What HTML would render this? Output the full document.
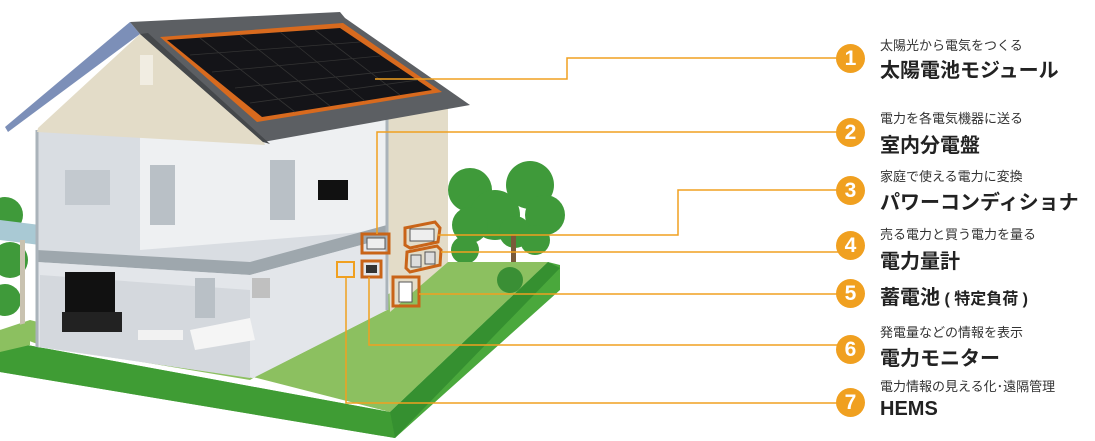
<!DOCTYPE html>
<html><head><meta charset="utf-8"><style>
html,body{margin:0;padding:0;background:#fff;}
body{width:1095px;height:441px;overflow:hidden;position:relative;font-family:"Liberation Sans","Noto Sans CJK JP",sans-serif;}
.b{position:absolute;left:836px;width:29px;height:29px;border-radius:50%;background:#f0a020;color:#fff;font-weight:bold;font-size:21px;line-height:29px;text-align:center;}
.s{position:absolute;left:880px;font-size:13px;color:#333;white-space:nowrap;}
.l{position:absolute;left:880px;font-size:20px;font-weight:bold;color:#222;white-space:nowrap;}
</style></head><body>
<svg width="1095" height="441" style="position:absolute;left:0;top:0">
<!-- trees -->
<g fill="#3f9a3a">
<circle cx="470" cy="190" r="22"/><circle cx="495" cy="215" r="25"/><circle cx="530" cy="185" r="24"/><circle cx="545" cy="215" r="20"/><circle cx="470" cy="225" r="18"/><circle cx="515" cy="232" r="16"/><circle cx="465" cy="250" r="14"/><circle cx="535" cy="240" r="15"/>
<circle cx="5" cy="215" r="18"/><circle cx="10" cy="260" r="18"/><circle cx="5" cy="300" r="16"/>
</g>
<rect x="511" y="235" width="5" height="30" fill="#7a5a3a"/>
<!-- lawn -->
<polygon points="0,340 390,412 548,262 560,265 560,290 395,438 0,372" fill="#4aa83c"/>
<polygon points="0,330 30,320 390,412 548,262 440,262 250,380 40,345" fill="#8cc060"/>
<polygon points="0,340 390,412 395,438 0,372" fill="#3f9c34"/>
<polygon points="390,412 548,262 560,268 395,438" fill="#359030"/>
<circle cx="408" cy="277" r="12" fill="#3a8f35"/><circle cx="510" cy="280" r="13" fill="#3a8f35"/>
<!-- left side carport -->
<polygon points="0,220 40,225 40,245 0,240" fill="#a9c9d4"/>
<rect x="20" y="240" width="5" height="105" fill="#c9c2b0"/>
<polygon points="0,330 30,322 30,345 0,352" fill="#8cc060"/>
<!-- right wall -->
<polygon points="385,118 448,108 448,262 390,312" fill="#e3dcc8"/>
<!-- interior -->
<polygon points="37,130 265,140 387,120 387,310 253,378 37,347" fill="#d9dde2"/>
<polygon points="140,130 265,140 387,120 387,230 140,250" fill="#eef0f2"/>
<polygon points="37,250 250,262 387,225 387,238 250,275 37,262" fill="#9ea7ad"/>
<polygon points="37,262 250,275 387,238 387,310 253,378 37,347" fill="#e3e6ea"/>
<polygon points="40,275 250,290 250,378 40,347" fill="#d4d8dd"/>
<rect x="150" y="165" width="25" height="60" fill="#b9c0c6"/>
<rect x="270" y="160" width="25" height="60" fill="#b9c0c6"/>
<rect x="65" y="170" width="45" height="35" fill="#c3c9cf"/>
<rect x="318" y="180" width="30" height="20" fill="#111"/>
<rect x="65" y="272" width="50" height="40" fill="#111"/>
<rect x="62" y="312" width="60" height="20" fill="#222"/>
<rect x="195" y="278" width="20" height="40" fill="#b9c0c6"/>
<polygon points="190,330 250,318 255,340 195,350" fill="#f5f5f5"/>
<rect x="138" y="330" width="45" height="10" fill="#f2f2f2"/>
<rect x="252" y="278" width="18" height="20" fill="#c0c0c0"/>
<line x1="37" y1="130" x2="37" y2="347" stroke="#aab3ba" stroke-width="3"/>
<line x1="387" y1="118" x2="387" y2="310" stroke="#aab3ba" stroke-width="3"/>
<!-- gable -->
<polygon points="38,128 140,34 263,140 265,145 37,132" fill="#e3dcc8"/>
<rect x="140" y="55" width="13" height="30" fill="#f1ede2"/>
<!-- roof -->
<polygon points="130,22 140,34 8,132 5,127" fill="#7c8fb8"/>
<polygon points="130,22 340,12 345,18 470,105 263,142 140,34" fill="#5c5f63"/>
<polygon points="140,34 263,142 270,144 148,33" fill="#45484b"/>
<polygon points="160,37 343,23 442,92 257,122" fill="#d86a1e"/>
<polygon points="167,40 340,28 432,90 262,117" fill="#141418"/>
<g stroke="#333" stroke-width="0.8">
<line x1="190" y1="55" x2="360" y2="42"/><line x1="212" y1="72" x2="380" y2="56"/><line x1="235" y1="88" x2="400" y2="70"/><line x1="250" y1="103" x2="418" y2="80"/>
<line x1="200" y1="38" x2="295" y2="112"/><line x1="240" y1="35" x2="330" y2="106"/><line x1="280" y1="32" x2="365" y2="101"/><line x1="315" y1="30" x2="400" y2="95"/>
</g>
<!-- devices -->
<g fill="none" stroke="#c96418" stroke-width="3">
<rect x="362" y="234" width="27" height="19"/>
<polygon points="405,228 435,222 440,228 438,242 410,248 405,245"/>
<polygon points="407,252 437,246 441,250 440,265 410,272 406,268"/>
<rect x="393" y="277" width="26" height="29"/>
<rect x="362" y="261" width="19" height="16"/>
</g>
<rect x="367" y="238" width="18" height="11" fill="#eee" stroke="#555"/>
<rect x="410" y="229" width="24" height="12" fill="#eee" stroke="#555"/>
<rect x="411" y="255" width="10" height="12" fill="#ddd" stroke="#555"/><rect x="425" y="252" width="10" height="12" fill="#ddd" stroke="#555"/>
<rect x="399" y="282" width="13" height="20" fill="#fff" stroke="#555"/>
<rect x="366" y="265" width="11" height="8" fill="#333"/>
<rect x="337" y="262" width="17" height="15" fill="none" stroke="#f0a020" stroke-width="2"/>
<!-- connectors -->
<g fill="none" stroke="#f0a020" stroke-width="1.5">
<polyline points="375,79 567,79 567,58 838,58"/>
<polyline points="377,234 377,132 838,132"/>
<polyline points="438,235 678,235 678,190 838,190"/>
<polyline points="441,252 838,252"/>
<polyline points="419,294 838,294"/>
<polyline points="369,277 369,345 838,345"/>
<polyline points="346,277 346,403 838,403"/>
</g>
</svg>
<div class="b" style="top:44px">1</div>
<div class="b" style="top:118px">2</div>
<div class="b" style="top:176px">3</div>
<div class="b" style="top:231px">4</div>
<div class="b" style="top:279px">5</div>
<div class="b" style="top:335px">6</div>
<div class="b" style="top:388px">7</div>
<div class="s" style="top:35px">太陽光から電気をつくる</div>
<div class="l" style="top:54px">太陽電池モジュール</div>
<div class="s" style="top:108px">電力を各電気機器に送る</div>
<div class="l" style="top:129px">室内分電盤</div>
<div class="s" style="top:166px">家庭で使える電力に変換</div>
<div class="l" style="top:186px">パワーコンディショナ</div>
<div class="s" style="top:224px">売る電力と買う電力を量る</div>
<div class="l" style="top:245px">電力量計</div>
<div class="l" style="top:281px">蓄電池<span style="font-size:16px"> ( 特定負荷 )</span></div>
<div class="s" style="top:322px">発電量などの情報を表示</div>
<div class="l" style="top:342px">電力モニター</div>
<div class="s" style="top:376px">電力情報の見える化･遠隔管理</div>
<div class="l" style="top:398px">HEMS</div>
</body></html>
